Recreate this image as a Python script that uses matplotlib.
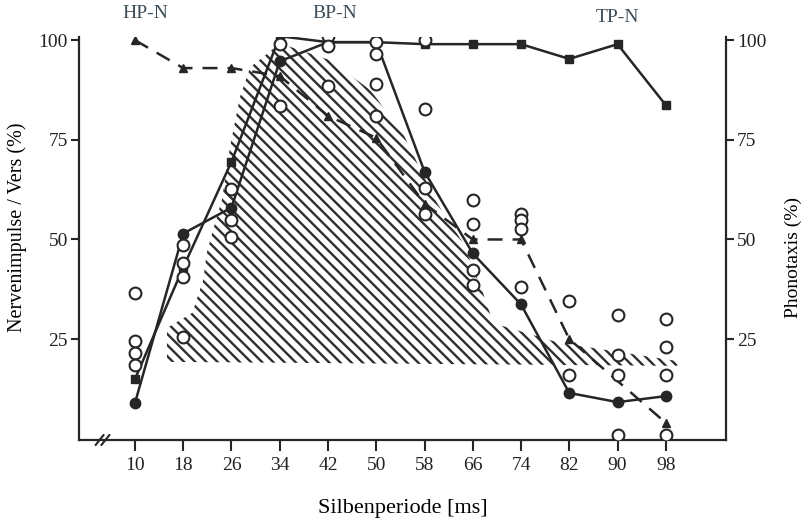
import numpy as np
import matplotlib
matplotlib.use("Agg")
import matplotlib.pyplot as plt

plt.rcParams['font.family'] = ['Liberation Serif', 'DejaVu Serif']
plt.rcParams['hatch.linewidth'] = 1.7

# Silbenperiode [ms]
periods = [10, 18, 26, 34, 42, 50, 58, 66, 74, 82, 90, 98]

# TP-N (filled squares, solid)
tp_n = [15, 43, 69.5, 101, 99.5, 99.5, 99, 99, 99, 95.3, 99, 83.7]
# BP-N (filled circles, solid)
bp_n = [9, 51.5, 58, 94.7, 99.5, 99.5, 67, 46.5, 33.7, 11.5, 9.2, 10.7]
# HP-N (triangles, dashed) - no marker at 90 ms
hp_periods = [10, 18, 26, 34, 42, 50, 58, 66, 74, 82, 98]
hp_n = [100, 93, 93, 91, 81, 75.5, 59, 50, 50, 25, 4]

# Phonotaxis, single animals (open circles)
oc_x = [10, 10, 10, 10, 18, 18, 18, 18, 26, 26, 26, 34, 34,
        42, 42, 42, 50, 50, 50, 50, 58, 58, 58, 58, 66, 66, 66, 66,
        74, 74, 74, 74, 82, 82, 90, 90, 90, 90, 98, 98, 98, 98]
oc_y = [36.5, 24.5, 21.5, 18.5, 48.7, 44, 40.5, 25.5, 62.7, 55, 50.5, 99, 83.5,
        101, 98.5, 88.5, 99.5, 96.5, 89, 81, 100, 82.7, 63, 56.5, 60, 54, 42.3, 38.5,
        56.5, 54.8, 52.7, 38, 34.5, 16, 31, 21, 16, 1, 30, 23, 16, 1]

# hatched range of phonotaxis
hatch_x = [15.3, 15.3, 19.5, 21.3, 21.9, 22.8, 24.4, 25.75, 27.4, 29.1, 31.2, 34.0,
           42.3, 49, 54.4, 56.8, 60.1, 64.4, 67.7, 69.4, 80.5, 85, 99.9, 99.9]
hatch_y = [19.3, 27.8, 31.6, 39.8, 46.6, 51.6, 59.9, 73.2, 85.7, 93.2, 95.7, 99.2,
           95, 87.5, 76.7, 69.2, 59.1, 49.1, 36.6, 29, 24, 23, 19.5, 18.3]

yticks = [25, 50, 75, 100]

ink = '#262626'
lab = '#3d4d58'

fig = plt.figure(figsize=(8.05, 5.18), dpi=100)
ax = fig.add_axes([0.098, 0.1506, 0.804, 0.778])

ax.fill(hatch_x, hatch_y, facecolor='none', edgecolor='#2e2e2e', hatch='\\\\\\', linewidth=0, zorder=1)

ax.plot(periods, tp_n, '-s', color=ink, lw=1.8, ms=6, zorder=3)
ax.plot(periods, bp_n, '-o', color=ink, lw=1.8, ms=7.5, zorder=3)
ax.plot(hp_periods, hp_n, '--^', color=ink, lw=1.8, ms=6, dashes=(6, 4), zorder=3)
ax.plot(oc_x, oc_y, 'o', mfc='white', mec=ink, mew=1.5, ms=8.5, zorder=4)

ax.set_xlim(0.7, 108)
ax.set_ylim(-0.3, 100.8)
ax.set_xticks(periods)
ax.set_yticks(yticks)
ax.spines['top'].set_visible(False)
for s in ['left', 'right', 'bottom']:
    ax.spines[s].set_linewidth(1.6)
    ax.spines[s].set_color(ink)
ax.tick_params(axis='both', labelsize=14, width=1.5, color=ink, labelcolor='#222222')
ax.tick_params(axis='x', length=8, pad=4)
ax.tick_params(axis='y', length=6, pad=2)

ax.set_xlabel('Silbenperiode [ms]', fontsize=16, labelpad=18)

ax2 = ax.twinx()
ax2.set_ylim(ax.get_ylim())
ax2.set_yticks(yticks)
ax2.tick_params(axis='y', labelsize=14, width=1.5, length=6, pad=2, color=ink, labelcolor='#222222')
for s in ax2.spines.values():
    s.set_visible(False)

fig.text(17 / 805, 1 - 227 / 518, 'Nervenimpulse / Vers (%)', fontsize=14.5, rotation=90,
         ha='center', va='center')
fig.text(793 / 805, 1 - 257 / 518, 'Phonotaxis (%)', fontsize=14, rotation=90,
         ha='center', va='center')

# axis break mark
for dx in (0.0, 0.009):
    ax.plot([0.026 + dx, 0.038 + dx], [-0.012, 0.012], transform=ax.transAxes,
            color=ink, lw=1.5, clip_on=False)

fig.text(145 / 805, 1 - 14 / 518, 'HP-N', fontsize=14, color=lab, ha='center', va='center')
fig.text(335 / 805, 1 - 14 / 518, 'BP-N', fontsize=14, color=lab, ha='center', va='center')
fig.text(617 / 805, 1 - 17 / 518, 'TP-N', fontsize=14, color=lab, ha='center', va='center')

fig.savefig('out.png', dpi=100)
